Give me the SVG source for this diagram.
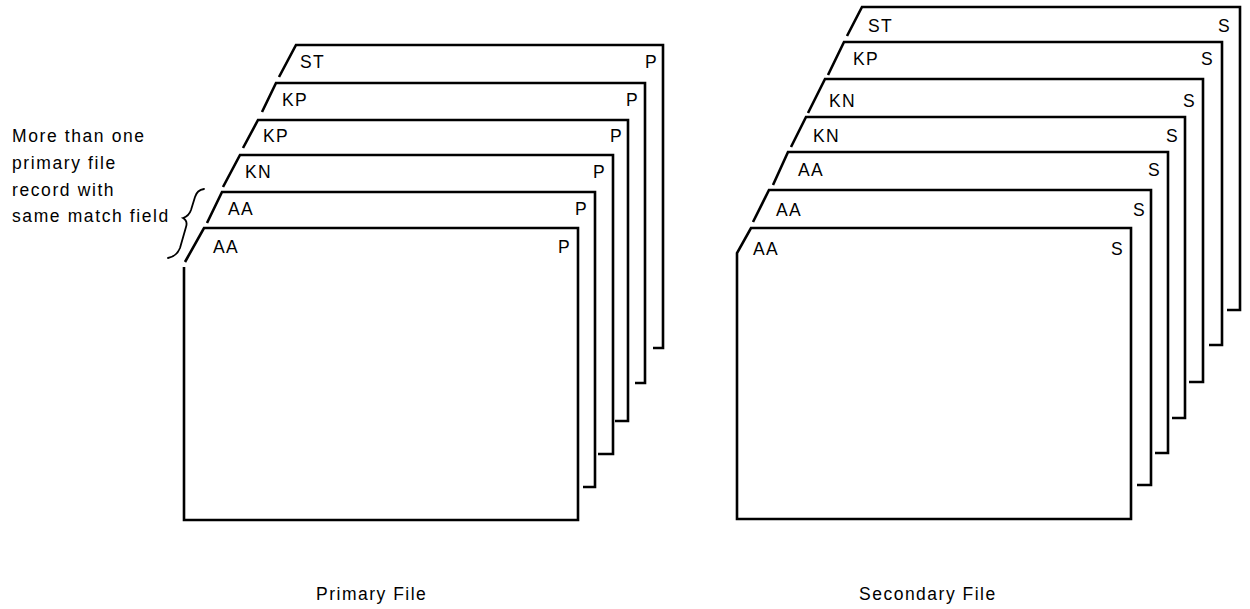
<svg xmlns="http://www.w3.org/2000/svg" width="1250" height="609" viewBox="0 0 1250 609">
<style>
.card{fill:none;stroke:#000;stroke-width:2.6;stroke-linejoin:miter;stroke-linecap:butt}
.lbl{font-family:"Liberation Sans",Arial,sans-serif;font-size:17.5px;letter-spacing:1.4px;fill:#000}
.note{font-family:"Liberation Sans",Arial,sans-serif;font-size:17.5px;letter-spacing:1.6px;fill:#000}
.cap{font-family:"Liberation Sans",Arial,sans-serif;font-size:17.5px;letter-spacing:1.5px;fill:#000}
.brace{fill:none;stroke:#000;stroke-width:1.8;stroke-linecap:round}
</style>
<rect width="1250" height="609" fill="#fff"/>

<!-- Primary file cards (back to front) -->
<g id="p6"><path class="card" d="M279,77 L296,45 L663,45 L663,348 L653,348"/><text class="lbl" x="300" y="68">ST</text><text class="lbl" x="645" y="68">P</text></g>
<g id="p5"><path class="card" d="M262,112 L276,83 L645,83 L645,383 L635,383"/><text class="lbl" x="282" y="106">KP</text><text class="lbl" x="626" y="106">P</text></g>
<g id="p4"><path class="card" d="M243,148 L258,120 L628,120 L628,421 L615,421"/><text class="lbl" x="263" y="142">KP</text><text class="lbl" x="610" y="142">P</text></g>
<g id="p3"><path class="card" d="M223,187 L240,155 L613,155 L613,454 L598,454"/><text class="lbl" x="245" y="178">KN</text><text class="lbl" x="593" y="178">P</text></g>
<g id="p2"><path class="card" d="M207,223 L222,192 L595,192 L595,487 L583,487"/><text class="lbl" x="228" y="215">AA</text><text class="lbl" x="575" y="215">P</text></g>
<g id="p1"><path class="card" d="M185,262 L204,228 L578,228 L578,520 L184,520 L184,267"/><text class="lbl" x="213" y="253">AA</text><text class="lbl" x="558" y="253">P</text></g>

<!-- Secondary file cards (back to front) -->
<g id="s7"><path class="card" d="M847,36 L862,7 L1240,7 L1240,310 L1227,310"/><text class="lbl" x="868" y="32">ST</text><text class="lbl" x="1218" y="32">S</text></g>
<g id="s6"><path class="card" d="M828,75 L844,42 L1222,42 L1222,345 L1209,345"/><text class="lbl" x="853" y="65">KP</text><text class="lbl" x="1201" y="65">S</text></g>
<g id="s5"><path class="card" d="M808,113 L825,79 L1203,79 L1203,382 L1189,382"/><text class="lbl" x="829" y="107">KN</text><text class="lbl" x="1183" y="107">S</text></g>
<g id="s4"><path class="card" d="M791,147 L806,117 L1185,117 L1185,418 L1172,418"/><text class="lbl" x="813" y="142">KN</text><text class="lbl" x="1166" y="142">S</text></g>
<g id="s3"><path class="card" d="M773,185 L788,152 L1168,152 L1168,453 L1155,453"/><text class="lbl" x="798" y="176">AA</text><text class="lbl" x="1148" y="176">S</text></g>
<g id="s2"><path class="card" d="M753,222 L769,190 L1151,190 L1151,485 L1137,485"/><text class="lbl" x="776" y="216">AA</text><text class="lbl" x="1133" y="216">S</text></g>
<g id="s1"><path class="card" d="M737,519 L737,253 L751,228 L1131,228 L1131,519 Z"/><text class="lbl" x="753" y="255">AA</text><text class="lbl" x="1111" y="255">S</text></g>

<!-- Annotation -->
<g id="note">
<text class="note" x="12" y="142">More than one</text>
<text class="note" x="12" y="169">primary file</text>
<text class="note" x="12" y="196">record with</text>
<text class="note" x="12" y="222">same match field</text>
</g>
<g id="connectors">
<path class="brace" d="M204,189 Q197,190 195,197 L191,210 Q189,216 183,218 Q188,221 186,227 L180,248 Q177,256 168,258"/>
</g>

<g id="captions">
<text class="cap" x="316" y="600">Primary File</text>
<text class="cap" x="859" y="600">Secondary File</text>
</g>
</svg>
